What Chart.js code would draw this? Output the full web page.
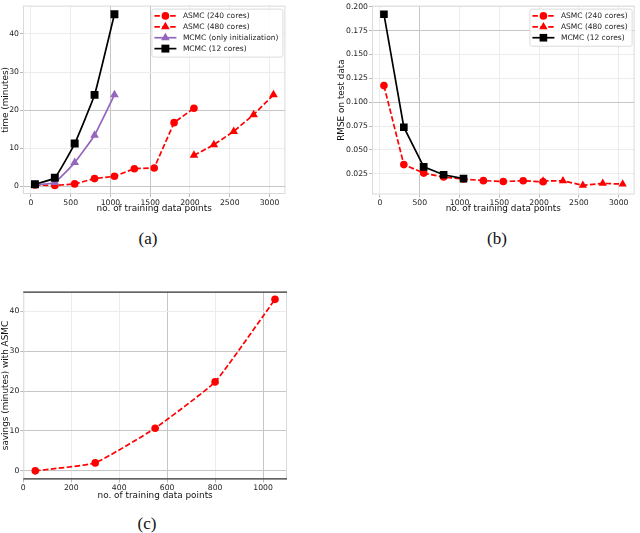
<!DOCTYPE html>
<html>
<head>
<meta charset="utf-8">
<script src="https://cdn.jsdelivr.net/npm/chart.js@4.4.1/dist/chart.umd.min.js"></script>
<style>
  body { margin: 0; background: #fff; }
  #wrap { position: relative; width: 640px; height: 533px; overflow: hidden; }
  #wrap canvas { position: absolute; }
  .sub {
    position: absolute;
    font-family: 'Liberation Serif', serif;
    font-size: 17px;
    color: #111;
    transform: translate(-50%, -50%);
  }
</style>
</head>
<body>
<div id="wrap">
  <canvas id="chartTime" width="291" height="214" style="left:0;top:0"></canvas>
  <canvas id="chartRmse" width="304" height="214" style="left:336px;top:0"></canvas>
  <canvas id="chartSavings" width="291" height="215" style="left:0;top:286px"></canvas>
  <div class="sub" style="left:148px;top:239px">(a)</div>
  <div class="sub" style="left:497px;top:239px">(b)</div>
  <div class="sub" style="left:147px;top:524px">(c)</div>
</div>
<script>
// training sizes
var xAsmc240 = [50, 300, 550, 800, 1050, 1300, 1550, 1800, 2050];
var xAsmc480 = [2050, 2300, 2550, 2800, 3050];
var xMcmc = [50, 300, 550, 800, 1050];

// (a) time in minutes
var timeAsmc240 = [0.3, 0.2, 0.6, 2.0, 2.6, 4.6, 4.8, 16.7, 20.5];
var timeAsmc480 = [8.1, 10.9, 14.4, 18.8, 24.0];
var timeMcmcInit = [0.3, 1.0, 6.2, 13.4, 24.0];
var timeMcmc12 = [0.5, 2.2, 11.2, 24.0, 45.2];

// (b) rmse on test data
var rmseAsmc240 = [0.1174, 0.0347, 0.0258, 0.0217, 0.0196, 0.0179, 0.0170, 0.0178, 0.0167];
var rmseAsmc480 = [0.0176, 0.0178, 0.0130, 0.0150, 0.0143];
var rmseMcmc12 = [0.1921, 0.0738, 0.0323, 0.0241, 0.0200];

// (c) savings in minutes
var savings = [0.0, 2.0, 10.7, 22.3, 43.0];

// tick labels
var xTicksWide = [0, 500, 1000, 1500, 2000, 2500, 3000];
var xTicksSmall = [0, 200, 400, 600, 800, 1000];
var yTicksTime = [0, 10, 20, 30, 40];
var yTicksRmse = [0.025, 0.05, 0.075, 0.1, 0.125, 0.15, 0.175, 0.2];
var yTicksSavings = [0, 10, 20, 30, 40];

var labelFont = 'DejaVu Sans';

toPoints = (xs, ys) => xs.map((x, i) => ({ x: x, y: ys[i] }));

// some grid lines look darker in the picture
gridColor = (dark) => (ctx) => {
  let v = ctx.tick ? ctx.tick.value : null;
  let isDark = dark.some((d) => Math.abs(d - v) < 1e-9);
  return isDark ? '#c6c6c6' : '#ececec';
};

makeAxis = (o) => ({
  type: 'linear',
  min: o.min,
  max: o.max,
  afterBuildTicks: (scale) => {
    scale.ticks = o.ticks.map((v) => ({ value: v }));
  },
  afterFit: (scale) => {
    if (o.width) scale.width = o.width;
    if (o.height) scale.height = o.height;
  },
  grid: {
    color: gridColor(o.dark || []),
    tickLength: 3,
    tickColor: '#b8b8b8',
  },
  border: { display: false },
  ticks: {
    autoSkip: false,
    maxRotation: 0,
    padding: 1,
    color: '#222',
    font: { family: labelFont, size: 7.7 },
    callback: o.format || ((v) => String(v)),
  },
  title: {
    display: true,
    text: o.title,
    color: '#111',
    padding: 0,
    font: { family: labelFont, size: 8.9 },
  },
});

// light frame round the plot area, dark top and bottom for (c)
var framePlugin = {
  id: 'frame',
  beforeDatasetsDraw(chart, args, opts) {
    let a = chart.chartArea;
    let ctx = chart.ctx;
    ctx.save();
    ctx.strokeStyle = '#dadada';
    ctx.lineWidth = 1;
    ctx.strokeRect(a.left + 0.5, a.top + 0.5, a.width - 1, a.height - 1);
    if (opts.dark) {
      ctx.strokeStyle = '#3a3a3a';
      ctx.lineWidth = 1.2;
      ctx.beginPath();
      ctx.moveTo(a.left, a.top + 0.5);
      ctx.lineTo(a.right, a.top + 0.5);
      ctx.moveTo(a.left, a.bottom - 0.5);
      ctx.lineTo(a.right, a.bottom - 0.5);
      ctx.stroke();
    }
    ctx.restore();
  },
};

drawMarker = (ctx, style, r, x, y) => {
  ctx.beginPath();
  if (style === 'rect') {
    let s = Math.SQRT1_2 * r;
    ctx.rect(x - s, y - s, 2 * s, 2 * s);
  } else if (style === 'triangle') {
    ctx.moveTo(x, y - r);
    ctx.lineTo(x + r * 0.866, y + r / 2);
    ctx.lineTo(x - r * 0.866, y + r / 2);
    ctx.closePath();
  } else {
    ctx.arc(x, y, r, 0, Math.PI * 2);
  }
  ctx.fill();
};

// legend box inside the plot, top right
var boxLegendPlugin = {
  id: 'boxLegend',
  afterDraw(chart, args, opts) {
    if (!opts.show) return;
    let ctx = chart.ctx;
    let a = chart.chartArea;
    let sets = chart.data.datasets;
    ctx.save();
    ctx.font = '7.5px "' + labelFont + '"';
    let w = Math.max(...sets.map((d) => ctx.measureText(d.label).width));
    let right = a.right - 3;
    let textX = right - 4 - w;
    let left = textX - 31.5;
    let top = a.top + 3;
    let rowH = 10.9;
    let bottom = top + 7.3 + rowH * (sets.length - 1) + 8;

    ctx.fillStyle = 'rgba(255,255,255,0.85)';
    ctx.strokeStyle = '#dcdcdc';
    ctx.lineWidth = 1;
    ctx.beginPath();
    ctx.roundRect(left + 0.5, top + 0.5, right - left, bottom - top, 2);
    ctx.fill();
    ctx.stroke();

    sets.forEach((d, i) => {
      let y = top + 7.3 + rowH * i;
      ctx.strokeStyle = d.borderColor;
      ctx.lineWidth = d.borderWidth;
      ctx.setLineDash(d.borderDash || []);
      ctx.beginPath();
      ctx.moveTo(textX - 28.5, y);
      ctx.lineTo(textX - 6.5, y);
      ctx.stroke();
      ctx.setLineDash([]);
      ctx.fillStyle = d.backgroundColor;
      drawMarker(ctx, d.pointStyle, d.pointRadius, textX - 17.5, y);
      ctx.fillStyle = '#222';
      ctx.textBaseline = 'middle';
      ctx.fillText(d.label, textX, y + 0.5);
    });
    ctx.restore();
  },
};

makeSet = (label, pts, color, dashed, style, radius, tension, order) => ({
  label: label,
  data: pts,
  borderColor: color,
  backgroundColor: color,
  borderWidth: 1.7,
  borderDash: dashed ? [5.5, 2.4] : [],
  pointStyle: style,
  pointRadius: radius,
  pointBorderWidth: 0,
  pointBackgroundColor: color,
  tension: tension,
  fill: false,
  order: order,
});

var baseOptions = (scales, legend, frame, pad) => ({
  responsive: false,
  animation: false,
  devicePixelRatio: 1,
  layout: { padding: pad },
  scales: scales,
  plugins: {
    legend: { display: false },
    tooltip: { enabled: false },
    boxLegend: legend,
    frame: frame,
  },
});

/* Grafica (a) tiempo */
var chartTime = new Chart(document.getElementById('chartTime'), {
  type: 'line',
  plugins: [framePlugin, boxLegendPlugin],
  data: {
    datasets: [
      makeSet('ASMC (240 cores)', toPoints(xAsmc240, timeAsmc240), '#ff0000', true, 'circle', 3.8, 0, 3),
      makeSet('ASMC (480 cores)', toPoints(xAsmc480, timeAsmc480), '#ff0000', true, 'triangle', 5, 0, 2),
      makeSet('MCMC (only initialization)', toPoints(xMcmc, timeMcmcInit), '#9467bd', false, 'triangle', 5, 0.12, 1),
      makeSet('MCMC (12 cores)', toPoints(xMcmc, timeMcmc12), '#000000', false, 'rect', 5.6, 0.12, 0),
    ],
  },
  options: baseOptions(
    {
      x: makeAxis({ min: -100, max: 3200, ticks: xTicksWide, height: 20, title: 'no. of training data points', dark: [1000, 1500] }),
      y: makeAxis({ min: -2.05, max: 47.45, ticks: yTicksTime, width: 23, title: 'time (minutes)', dark: [20, 0] }),
    },
    { show: true },
    { dark: false },
    { top: 2, right: 0, left: 0, bottom: 0 }
  ),
});

/* Grafica (b) RMSE */
var chartRmse = new Chart(document.getElementById('chartRmse'), {
  type: 'line',
  plugins: [framePlugin, boxLegendPlugin],
  data: {
    datasets: [
      makeSet('ASMC (240 cores)', toPoints(xAsmc240, rmseAsmc240), '#ff0000', true, 'circle', 3.8, 0, 2),
      makeSet('ASMC (480 cores)', toPoints(xAsmc480, rmseAsmc480), '#ff0000', true, 'triangle', 4.8, 0, 1),
      makeSet('MCMC (12 cores)', toPoints(xMcmc, rmseMcmc12), '#000000', false, 'rect', 5.4, 0, 0),
    ],
  },
  options: baseOptions(
    {
      x: makeAxis({ min: -100, max: 3200, ticks: xTicksWide, height: 19.5, title: 'no. of training data points', dark: [500] }),
      y: makeAxis({
        min: 0.0034, max: 0.2011, ticks: yTicksRmse, width: 36, title: 'RMSE on test data',
        dark: [0.175, 0.1], format: (v) => v.toFixed(3),
      }),
    },
    { show: true },
    { dark: false },
    { top: 2, right: 1, left: 0, bottom: 0 }
  ),
});

/* Grafica (c) ahorro */
var chartSavings = new Chart(document.getElementById('chartSavings'), {
  type: 'line',
  plugins: [framePlugin, boxLegendPlugin],
  data: {
    datasets: [
      makeSet('savings', toPoints(xMcmc, savings), '#ff0000', true, 'circle', 3.8, 0.12, 0),
    ],
  },
  options: baseOptions(
    {
      x: makeAxis({ min: 0, max: 1100, ticks: xTicksSmall, height: 21.6, title: 'no. of training data points', dark: [600, 1000] }),
      y: makeAxis({ min: -2.14, max: 44.94, ticks: yTicksSavings, width: 23.3, title: 'savings (minutes) with ASMC', dark: [0, 10, 20, 30] }),
    },
    { show: false },
    { dark: true },
    { top: 2.3, right: 0.7, left: 0, bottom: 0 }
  ),
});
</script>
</body>
</html>
